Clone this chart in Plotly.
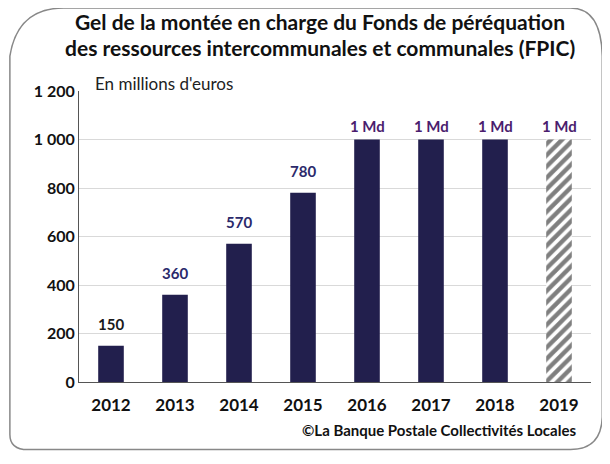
import plotly.graph_objects as go

years = ["2012", "2013", "2014", "2015", "2016", "2017", "2018", "2019"]
values = [150, 360, 570, 780, 1000, 1000, 1000, 1000]
labels = ["150", "360", "570", "780", "1 Md", "1 Md", "1 Md", "1 Md"]
label_colors = ["#1a1a1a", "#2b2a6b", "#2b2a6b", "#2b2a6b", "#4b1d6e", "#4b1d6e", "#4b1d6e", "#4b1d6e"]
label_gaps = [15, 15, 15, 15, 7, 7, 7, 7]
tick_vals = [0, 200, 400, 600, 800, 1000, 1200]
tick_text = ["0", "200", "400", "600", "800", "1 000", "1 200"]
title_lines = ["Gel de la montée en charge du Fonds de péréquation",
               "des ressources intercommunales et communales (FPIC)"]

FONT = "Lato"
bar_color = "#221f4d"

fig = go.Figure()
fig.add_trace(go.Bar(
    x=years[:-1], y=values[:-1],
    marker=dict(color=bar_color, line=dict(width=0)),
    width=0.4, showlegend=False,
))
fig.add_trace(go.Bar(
    x=years[-1:], y=values[-1:],
    marker=dict(color="white", line=dict(width=0),
                pattern=dict(shape="/", fgcolor="#000000", bgcolor="white", size=8, solidity=0.55)),
    width=0.4, showlegend=False,
))

annotations = [
    dict(text="<b>" + title_lines[0] + "</b>", xref="paper", yref="paper", x=0.471, y=1.2405,
         xanchor="center", yanchor="middle", showarrow=False,
         font=dict(family=FONT, size=21, color="#111111")),
    dict(text="<b>" + title_lines[1] + "</b>", xref="paper", yref="paper", x=0.471, y=1.148,
         xanchor="center", yanchor="middle", showarrow=False,
         font=dict(family=FONT, size=21, color="#111111")),
    dict(text="En millions d'euros", xref="paper", yref="paper", x=0.027, y=1.025,
         xanchor="left", yanchor="middle", showarrow=False,
         font=dict(family=FONT, size=17, color="#222222")),
    dict(text="©La Banque Postale Collectivités Locales", xref="paper", yref="paper",
         x=0.975, y=-0.165, xanchor="right", yanchor="middle", showarrow=False,
         font=dict(family=FONT, size=15, color="#111111", weight="bold")),
]
for i, (v, lab, col, gap) in enumerate(zip(values, labels, label_colors, label_gaps)):
    annotations.append(dict(
        text=lab, x=i, y=v, xref="x", yref="y", xanchor="center", yanchor="bottom",
        yshift=gap - 4, showarrow=False,
        font=dict(family=FONT, size=15, color=col, weight="bold"),
    ))

fig.update_layout(
    width=602, height=456,
    margin=dict(l=71, r=19, t=83, b=82, autoexpand=False),
    paper_bgcolor="white", plot_bgcolor="white",
    barmode="overlay",
    font=dict(family=FONT, color="#111111"),
    xaxis=dict(
        type="category", categoryorder="array", categoryarray=years, automargin=False,
        range=[-0.5, len(years) - 0.5],
        showline=True, linecolor="#555555", linewidth=1,
        ticks="", ticklabelstandoff=8,
        tickfont=dict(family=FONT, size=17, color="#111111", weight="bold"),
        showgrid=False,
    ),
    yaxis=dict(
        range=[0, 1200], tickvals=tick_vals, ticktext=tick_text, automargin=False,
        showline=True, linecolor="#555555", linewidth=1,
        tickfont=dict(family=FONT, size=16, color="#111111", weight="bold"),
        gridcolor="#d9d9d9", gridwidth=1, ticks="", ticklen=0,
        zeroline=False,
    ),
    annotations=annotations,
    shapes=[
        dict(type="path", xref="paper", yref="paper",
             path="M -0.03,1.285 L 0.96,1.285 Q 1.02,1.285 1.022,1.12 L 1.022,-0.12 Q 1.02,-0.232 0.96,-0.232 L -0.1,-0.232 Q -0.135,-0.232 -0.135,-0.18 L -0.135,1.12 Q -0.12,1.285 -0.03,1.285 Z",
             line=dict(color="#888888", width=1.5), layer="below"),
    ],
)

fig.write_html("out.html")
